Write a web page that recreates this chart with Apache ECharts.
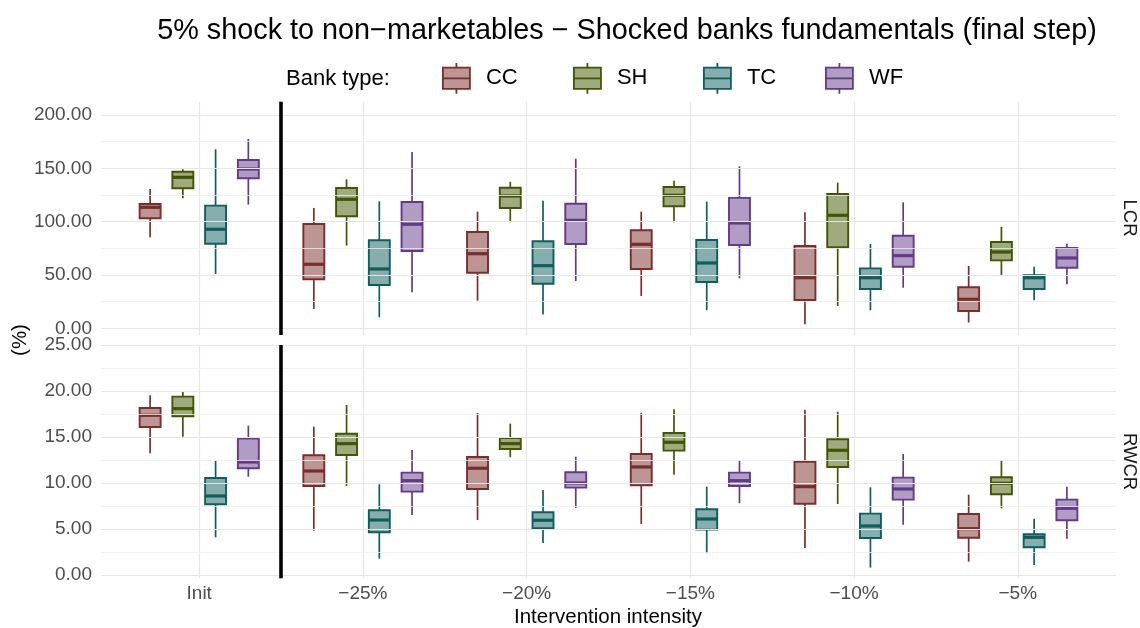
<!DOCTYPE html>
<html>
<head>
<meta charset="utf-8">
<script src="https://cdn.jsdelivr.net/npm/echarts@6/dist/echarts.min.js"></script>
<style>html,body{margin:0;padding:0;background:#fff}#c{width:1140px;height:628px}</style>
</head>
<body>
<div id="c"></div>
<script>
// ---------- data ----------
const categories = ['Init', '\u221225%', '\u221220%', '\u221215%', '\u221210%', '\u22125%'];
const bankTypes = ['CC', 'SH', 'TC', 'WF'];
// each row: [min, q1, median, q3, max], one row per category
const lcrCC = [[85.3,103.1,113.4,116.5,130.6],[18.1,45.9,60.0,97.8,112.8],[25.9,52.1,69.9,90.3,109.3],[30.3,55.6,78.7,91.9,109.3],[3.7,26.5,47.4,77.2,108.7],[5.3,16.2,27.2,38.4,58.4]];
const lcrSH = [[121.9,131.2,141.5,146.8,149.0],[77.5,105.0,120.9,131.5,139.7],[99.4,112.8,124.0,131.8,137.4],[99.4,114.4,124.7,132.5,138.4],[20.9,75.9,105.9,125.9,136.5],[49.3,63.7,71.5,80.9,95.0]];
const lcrTC = [[50.9,79.3,92.8,115.0,167.8],[10.3,40.6,55.6,82.5,119.0],[12.8,41.8,58.7,81.6,119.6],[16.9,43.4,61.2,82.8,118.7],[16.9,36.8,47.4,56.2,79.0],[26.2,36.8,47.4,49.7,57.7]];
const lcrWF = [[115.9,140.6,149.3,157.8,177.5],[33.7,72.5,97.5,118.4,165.3],[44.3,79.0,101.2,116.8,159.0],[46.9,78.1,98.7,122.2,151.9],[38.0,57.7,68.1,86.8,118.1],[41.2,56.8,65.9,75.3,79.3]];
const rwcrCC = [[13.24,16.1,17.37,18.16,19.54],[4.84,9.69,11.32,13.03,16.13],[6.0,9.37,11.62,12.84,17.62],[5.57,9.77,11.76,13.17,17.65],[2.96,7.77,9.62,12.33,17.98],[1.48,4.08,5.06,6.65,8.75]];
const rwcrSH = [[15.05,17.26,18.09,19.39,19.97],[9.69,13.06,14.29,15.37,18.49],[12.81,13.71,14.29,14.9,16.46],[10.92,13.53,14.44,15.45,18.02],[7.74,11.76,13.57,14.76,17.76],[7.27,8.79,9.99,10.64,12.48]];
const rwcrTC = [[4.12,7.71,8.61,10.56,12.44],[1.8,4.67,6.0,7.06,9.88],[3.5,5.1,5.97,6.84,9.26],[2.39,4.95,6.11,7.16,9.62],[0.83,4.05,5.35,6.69,9.55],[1.12,3.04,4.12,4.45,6.14]];
const rwcrWF = [[10.7,11.62,12.3,14.83,16.24],[6.55,9.08,10.27,11.14,13.6],[7.31,9.51,10.02,11.18,12.87],[7.82,9.69,10.27,11.14,12.44],[5.49,8.21,9.37,10.6,13.17],[3.97,5.97,7.27,8.21,9.62]];
const lcrTicks = [0, 50, 100, 150, 200];
const lcrMinor = [25, 75, 125, 175];
const rwcrTicks = [0, 5, 10, 15, 20, 25];
const rwcrMinor = [2.5, 7.5, 12.5, 17.5, 22.5];
const dividerAt = [0.5];

// ---------- styling ----------
const borderColors = {CC:'#7a2e2a', SH:'#415600', TC:'#0f5e5e', WF:'#633a8a'};
const fillColors = {CC:'rgba(122,46,42,0.5)', SH:'rgba(65,86,0,0.5)', TC:'rgba(15,94,94,0.5)', WF:'rgba(99,58,138,0.5)'};
const offsets = {CC:-0.3, SH:-0.1, TC:0.1, WF:0.3};
const HW = 0.064;
const FONT = '"Liberation Sans", Arial, sans-serif';

function renderer(type) {
  const off = offsets[type], bc = borderColors[type], fc = fillColors[type];
  return function (params, api) {
    const c = api.value(0) + off;
    const lo = api.coord([c, api.value(1)]);
    const q1 = api.coord([c, api.value(2)]);
    const md = api.coord([c, api.value(3)]);
    const q3 = api.coord([c, api.value(4)]);
    const hi = api.coord([c, api.value(5)]);
    const xl = api.coord([c - HW, api.value(3)])[0];
    const xr = api.coord([c + HW, api.value(3)])[0];
    const x = md[0];
    return {
      type: 'group',
      children: [
        {type:'line', shape:{x1:x, y1:q3[1], x2:x, y2:hi[1]}, style:{stroke:bc, lineWidth:1.7}},
        {type:'line', shape:{x1:x, y1:q1[1], x2:x, y2:lo[1]}, style:{stroke:bc, lineWidth:1.7}},
        {type:'rect', shape:{x:xl, y:q3[1], width:xr-xl, height:q1[1]-q3[1]}, style:{fill:fc, stroke:bc, lineWidth:1.9}},
        {type:'line', shape:{x1:xl, y1:md[1], x2:xr, y2:md[1]}, style:{stroke:bc, lineWidth:3.2}}
      ]
    };
  };
}

const panels = [
  {arrays:{CC:lcrCC, SH:lcrSH, TC:lcrTC, WF:lcrWF}, ticks:lcrTicks, minor:lcrMinor},
  {arrays:{CC:rwcrCC, SH:rwcrSH, TC:rwcrTC, WF:rwcrWF}, ticks:rwcrTicks, minor:rwcrMinor}
];

const series = [];
panels.forEach((p, pi) => {
  const gridLines = [];
  categories.forEach((_, i) => gridLines.push({xAxis:i, lineStyle:{color:'#e6e6e6', width:1.2, type:'solid'}}));
  p.ticks.forEach(v => gridLines.push({yAxis:v, lineStyle:{color:'#e6e6e6', width:1.2, type:'solid'}}));
  p.minor.forEach(v => gridLines.push({yAxis:v, lineStyle:{color:'#eeeeee', width:0.8, type:'solid'}}));
  series.push({
    type:'line', xAxisIndex:pi, yAxisIndex:pi, data:[], z:1, silent:true,
    markLine:{silent:true, symbol:'none', animation:false, label:{show:false}, data:gridLines}
  });
  series.push({
    type:'line', xAxisIndex:pi, yAxisIndex:pi, data:[], z:5, silent:true,
    markLine:{silent:true, symbol:'none', animation:false, label:{show:false},
      data: dividerAt.map(v => ({xAxis:v, lineStyle:{color:'#000', width:3.6, type:'solid'}}))}
  });
  bankTypes.forEach(t => {
    series.push({
      name:t, type:'custom', xAxisIndex:pi, yAxisIndex:pi, z:3, clip:false,
      itemStyle:{color:fillColors[t], borderColor:borderColors[t]},
      encode:{x:0, y:[1,2,3,4,5]},
      renderItem: renderer(t),
      data: p.arrays[t].map((r, i) => [i].concat(r))
    });
  });
});

const iconPath = 'path://M14,0L14,5M0,5L28,5L28,27L0,27ZM0,16L28,16M14,27L14,32';
const legendLefts = {CC:442, SH:573, TC:703, WF:825};
const legends = bankTypes.map(t => ({
  left: legendLefts[t], top: 62, orient:'horizontal', itemWidth:27, itemHeight:32, padding:0,
  selectedMode:false,
  data:[{name:t, icon:iconPath, itemStyle:{color:fillColors[t], borderColor:borderColors[t], borderWidth:1.8}}],
  textStyle:{fontFamily:FONT, fontSize:22, color:'#000', padding:[0,0,0,11]}
}));

const option = {
  animation:false,
  backgroundColor:'#fff',
  textStyle:{fontFamily:FONT},
  legend: legends,
  grid:[
    {left:101, right:24, top:101.7, height:233.3},
    {left:101, right:24, top:345, height:233.3}
  ],
  xAxis:[0,1].map(i => ({
    type:'value', gridIndex:i, min:-0.6, max:5.6,
    axisLine:{show:false}, axisTick:{show:false}, splitLine:{show:false},
    axisLabel: i === 1 ? {
      show:true, customValues:[0,1,2,3,4,5], margin:6,
      formatter: v => categories[Math.round(v)] || '',
      color:'#4d4d4d', fontSize:19, fontFamily:FONT
    } : {show:false}
  })),
  yAxis:[
    {type:'value', gridIndex:0, min:-6.3, max:212.4,
      axisLine:{show:false}, axisTick:{show:false}, splitLine:{show:false},
      axisLabel:{customValues:lcrTicks, formatter:v => v.toFixed(2), color:'#4d4d4d', fontSize:19, margin:9, fontFamily:FONT}},
    {type:'value', gridIndex:1, min:-0.33, max:25,
      axisLine:{show:false}, axisTick:{show:false}, splitLine:{show:false},
      axisLabel:{customValues:rwcrTicks, formatter:v => v.toFixed(2), color:'#4d4d4d', fontSize:19, margin:9, fontFamily:FONT}}
  ],
  graphic:[
    {type:'text', x:627, y:31, style:{text:'5% shock to non\u2212marketables \u2212 Shocked banks fundamentals (final step)', fontSize:28.8, fontFamily:FONT, fill:'#000', textAlign:'center', textVerticalAlign:'middle'}},
    {type:'text', x:286, y:79, style:{text:'Bank type:', fontSize:22, fontFamily:FONT, fill:'#000', textAlign:'left', textVerticalAlign:'middle'}},
    {type:'text', x:20, y:340, rotation:Math.PI/2, style:{text:'(%)', fontSize:20.5, fontFamily:FONT, fill:'#000', textAlign:'center', textVerticalAlign:'middle'}},
    {type:'text', x:608, y:617, style:{text:'Intervention intensity', fontSize:20.5, fontFamily:FONT, fill:'#000', textAlign:'center', textVerticalAlign:'middle'}},
    {type:'text', x:1129, y:218, rotation:-Math.PI/2, style:{text:'LCR', fontSize:18.5, fontFamily:FONT, fill:'#1a1a1a', textAlign:'center', textVerticalAlign:'middle'}},
    {type:'text', x:1129, y:461.6, rotation:-Math.PI/2, style:{text:'RWCR', fontSize:18.5, fontFamily:FONT, fill:'#1a1a1a', textAlign:'center', textVerticalAlign:'middle'}}
  ],
  series: series
};

const chart = echarts.init(document.getElementById('c'), null, {renderer:'canvas'});
chart.setOption(option);
</script>
</body>
</html>
